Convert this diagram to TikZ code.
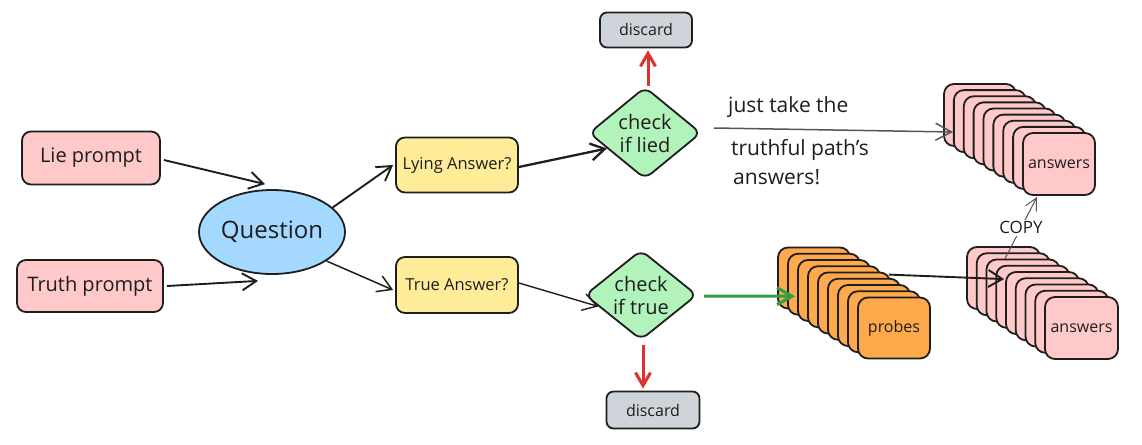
\documentclass[tikz,border=0pt]{standalone}
\usepackage{fontspec}
\setmainfont{Open Sans}
\usetikzlibrary{arrows.meta,shapes.geometric,calc}
\definecolor{stroke}{HTML}{1E1E1E}
\definecolor{pinkc}{HTML}{FFC9C9}
\definecolor{yellowc}{HTML}{FFEC99}
\definecolor{bluec}{HTML}{A5D8FF}
\definecolor{greenc}{HTML}{B2F2BB}
\definecolor{grayc}{HTML}{CED4DA}
\definecolor{orangec}{HTML}{FFA94D}
\definecolor{redc}{HTML}{E03131}
\definecolor{greenarr}{HTML}{2F9E44}
\definecolor{linegray}{HTML}{555555}
\newcommand\fsz[2]{\fontsize{#1}{#2}\selectfont}
\begin{document}
\begin{tikzpicture}[x=1pt,y=-1pt,
  box/.style={draw=stroke,line width=1.8pt,rounded corners=9pt,inner sep=0pt,align=center,text=stroke},
  dia/.style={draw=stroke,line width=1.8pt,diamond,rounded corners=8pt,inner xsep=-12pt,inner ysep=-10pt,align=center,fill=greenc,font=\fsz{20}{23},text=stroke},
  card/.style={draw=stroke,line width=1.8pt,rounded corners=10pt,inner sep=0pt,minimum width=72pt,minimum height=61pt,font=\fsz{16}{19},text=stroke},
  arr/.style={draw=stroke,line width=1.9pt,-{Straight Barb[length=14pt,width=17pt]}},
  redarr/.style={draw=redc,line width=3pt,-{Straight Barb[length=13pt,width=15pt]}},
  note/.style={anchor=west,font=\fsz{21}{25},text=stroke,inner sep=0pt},
]
\useasboundingbox (0,0) rectangle (1142,444);

% left boxes
\node[box,fill=pinkc,minimum width=138pt,minimum height=53pt,font=\fsz{20}{24}] (lie) at (91,158) {Lie prompt};
\node[box,fill=pinkc,minimum width=146pt,minimum height=52pt,font=\fsz{20}{24}] (truth) at (90,286) {Truth prompt};
\node[draw=stroke,line width=1.8pt,ellipse,fill=bluec,minimum width=146pt,minimum height=84pt,inner sep=0pt,font=\fsz{24}{28},text=stroke] (q) at (272,232) {Question};

% answers
\node[box,fill=yellowc,minimum width=122pt,minimum height=55pt,font=\fsz{16.5}{19}] (lying) at (457,165) {Lying Answer?};
\node[box,fill=yellowc,minimum width=122pt,minimum height=56pt,font=\fsz{16.5}{19}] (truea) at (457,285) {True Answer?};

% diamonds
\node[dia,minimum width=112pt,minimum height=92pt,aspect=1.22] (cl) at (645,133) {check\\if lied};
\node[dia,minimum width=112pt,minimum height=90pt,aspect=1.24] (ct) at (641,295) {check\\if true};

% discard
\node[box,fill=grayc,minimum width=92pt,minimum height=35pt,rounded corners=7pt,font=\fsz{16}{19}] (dtop) at (646,30) {discard};
\node[box,fill=grayc,minimum width=93pt,minimum height=37pt,rounded corners=7pt,font=\fsz{16}{19}] (dbot) at (653,410) {discard};

% probes stack
\foreach \i in {0,...,7} \node[card,fill=orangec] (p\i) at ({814+10*\i},{278+6.25*\i}) {};
\node[card,fill=orangec] (p8) at (894,328) {probes};

% answers stack bottom
\foreach \i in {0,...,7} \node[card,fill=pinkc,minimum width=73pt,minimum height=62pt] (b\i) at ({1003.5+9.75*\i},{278+6.25*\i}) {};
\node[card,fill=pinkc,minimum width=73pt,minimum height=62pt] (b8) at (1081.5,328) {answers};

% answers stack top
\foreach \i in {0,...,7} \node[card,fill=pinkc,minimum height=62pt] (a\i) at ({980+9.875*\i},{115+6.125*\i}) {};
\node[card,fill=pinkc,minimum height=62pt] (a8) at (1059,164) {answers};

% connectors
\draw[arr] ([xshift=3pt,yshift=-2pt]lie.east) -- ([xshift=-7pt,yshift=5pt]q.north);
\draw[arr] ([xshift=3pt]truth.east) -- ([xshift=-14pt,yshift=-6pt]q.south);
\draw[arr] (q.22) -- ([xshift=-2pt]lying.west);
\draw[arr,line width=1.5pt] (q.-28) -- ([xshift=-2pt,yshift=-5pt]truea.west);
\draw[arr,line width=2.3pt] ([yshift=-2pt]lying.east) -- ($(cl.west)!0.33!(cl.south)$);
\draw[arr,line width=1.4pt] ([yshift=2pt]truea.east) -- ($(ct.west)!0.25!(ct.south)$);
\draw[redarr] ([xshift=3pt]cl.north) -- ([xshift=2pt,yshift=-2pt]dtop.south);
\draw[redarr] ([xshift=2pt,yshift=-4pt]ct.south) -- ([xshift=-10pt,yshift=2pt]dbot.north);
\draw[draw=greenarr,line width=3pt,-{Straight Barb[length=15pt,width=17pt]}] ([xshift=6pt,yshift=-1pt]ct.east) -- ([xshift=8pt,yshift=-12pt]p1.west);
\draw[draw=linegray,line width=1.5pt,-{Straight Barb[length=16pt,width=17pt]}] ([xshift=12pt,yshift=5pt]cl.east) -- ([xshift=10pt,yshift=-17pt]a0.west);
\draw[arr] ([xshift=-2pt,yshift=-3pt]p4.north east) -- ([xshift=-1pt,yshift=-8pt]b4.north west);
\draw[draw=linegray,line width=1pt,-{Straight Barb[length=12pt,width=12pt]}] ([xshift=-18pt]b2.north) -- node[fill=white,inner sep=2pt,font=\fsz{17}{20},text=stroke] (copy) {COPY} ([xshift=-22pt,yshift=-1pt]a8.south);

% annotation text
\node[note] (t1) at (728,107) {just take the};
\node[note] (t2) at (731,150) {truthful path's};
\node[note] (t3) at (733,177) {answers!};
\end{tikzpicture}
\end{document}
